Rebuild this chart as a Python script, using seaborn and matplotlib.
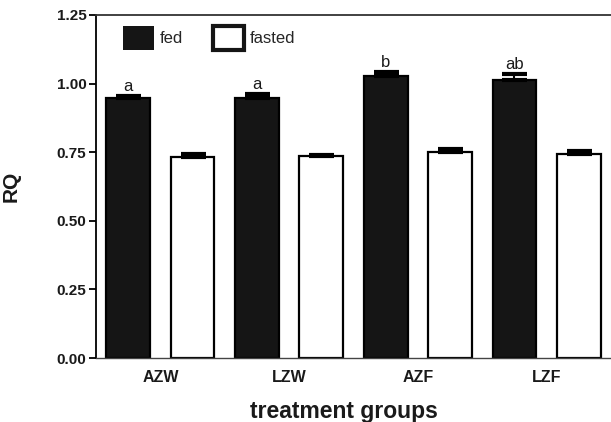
import pandas as pd
import matplotlib.pyplot as plt
import seaborn as sns
from matplotlib.patches import Patch

# valores
groups = ["AZW", "LZW", "AZF", "LZF"]
conditions = ["fed", "fasted"]
rq_fed = [0.948, 0.949, 1.028, 1.013]
rq_fasted = [0.731, 0.735, 0.752, 0.743]
se_fed = [0.007, 0.013, 0.014, 0.022]
se_fasted = [0.011, 0.005, 0.010, 0.013]
letters = ["a", "a", "b", "ab"]

df = pd.DataFrame({
    "group": groups * 2,
    "condition": ["fed"] * 4 + ["fasted"] * 4,
    "RQ": rq_fed + rq_fasted,
    "se": se_fed + se_fasted,
})

sns.set_style("ticks")
plt.rcParams["font.family"] = ["Liberation Sans", "DejaVu Sans"]

fig = plt.figure(figsize=(6.11, 4.22), dpi=100)
ax = fig.add_axes([96 / 611, 64 / 422, 515 / 611, 343 / 422])

sns.barplot(data=df, x="group", y="RQ", hue="condition", order=groups,
            hue_order=conditions, palette={"fed": "#151515", "fasted": "white"},
            edgecolor="black", linewidth=1.6, width=1.0, gap=0.32,
            errorbar=None, ax=ax, legend=False)

# barras de erro (so para cima)
for cont, cond in zip(ax.containers, conditions):
    sub = df[df["condition"] == cond].set_index("group").loc[groups]
    xs = [b.get_x() + b.get_width() / 2 for b in cont]
    ax.errorbar(xs, sub["RQ"], yerr=[[0] * 4, sub["se"]], fmt="none",
                ecolor="black", elinewidth=1.5, capsize=9, capthick=3, zorder=5)
    if cond == "fed":
        for x, y, e, l in zip(xs, sub["RQ"], sub["se"], letters):
            ax.text(x, y + e + 0.018, l, ha="center", va="baseline",
                    fontsize=12, color="#1a1a1a")

ax.set_xlim(-0.5, 3.5)
ax.set_ylim(0, 1.25)
ax.set_yticks([0, 0.25, 0.5, 0.75, 1.0, 1.25])
ax.set_yticklabels([f"{v:.2f}" for v in [0, 0.25, 0.5, 0.75, 1.0, 1.25]])

ax.tick_params(axis="y", length=5, width=1.3, pad=2, labelsize=11, color="black")
ax.tick_params(axis="x", length=0, pad=9, labelsize=11.5)
for lab in ax.get_xticklabels() + ax.get_yticklabels():
    lab.set_fontweight("bold")
    lab.set_color("#1a1a1a")

ax.set_ylabel("RQ", fontsize=15, fontweight="bold", color="#1a1a1a")
ax.yaxis.set_label_coords(-0.147, 0.5)
ax.set_xlabel("treatment groups", fontsize=16.5, fontweight="bold",
              color="#1a1a1a", va="baseline")
ax.xaxis.set_label_coords(0.481, -0.175)

ax.spines["left"].set_color("black")
ax.spines["left"].set_linewidth(1.3)
ax.spines["top"].set_color("#333333")
ax.spines["top"].set_linewidth(1.3)
ax.spines["bottom"].set_color("#444444")
ax.spines["bottom"].set_linewidth(1.0)
ax.spines["right"].set_color("#cccccc")
ax.spines["right"].set_linewidth(0.8)

handles = [Patch(facecolor="#151515", edgecolor="#151515", linewidth=0, label="fed"),
           Patch(facecolor="white", edgecolor="#151515", linewidth=3, label="fasted")]
ax.legend(handles=handles, loc="upper left", bbox_to_anchor=(27 / 515, 1 - 11 / 343),
          ncol=2, frameon=False, fontsize=12, borderpad=0, borderaxespad=0,
          handlelength=1.86, handleheight=1.8, handletextpad=0.36, columnspacing=1.8)

plt.savefig("out.png", dpi=100)
